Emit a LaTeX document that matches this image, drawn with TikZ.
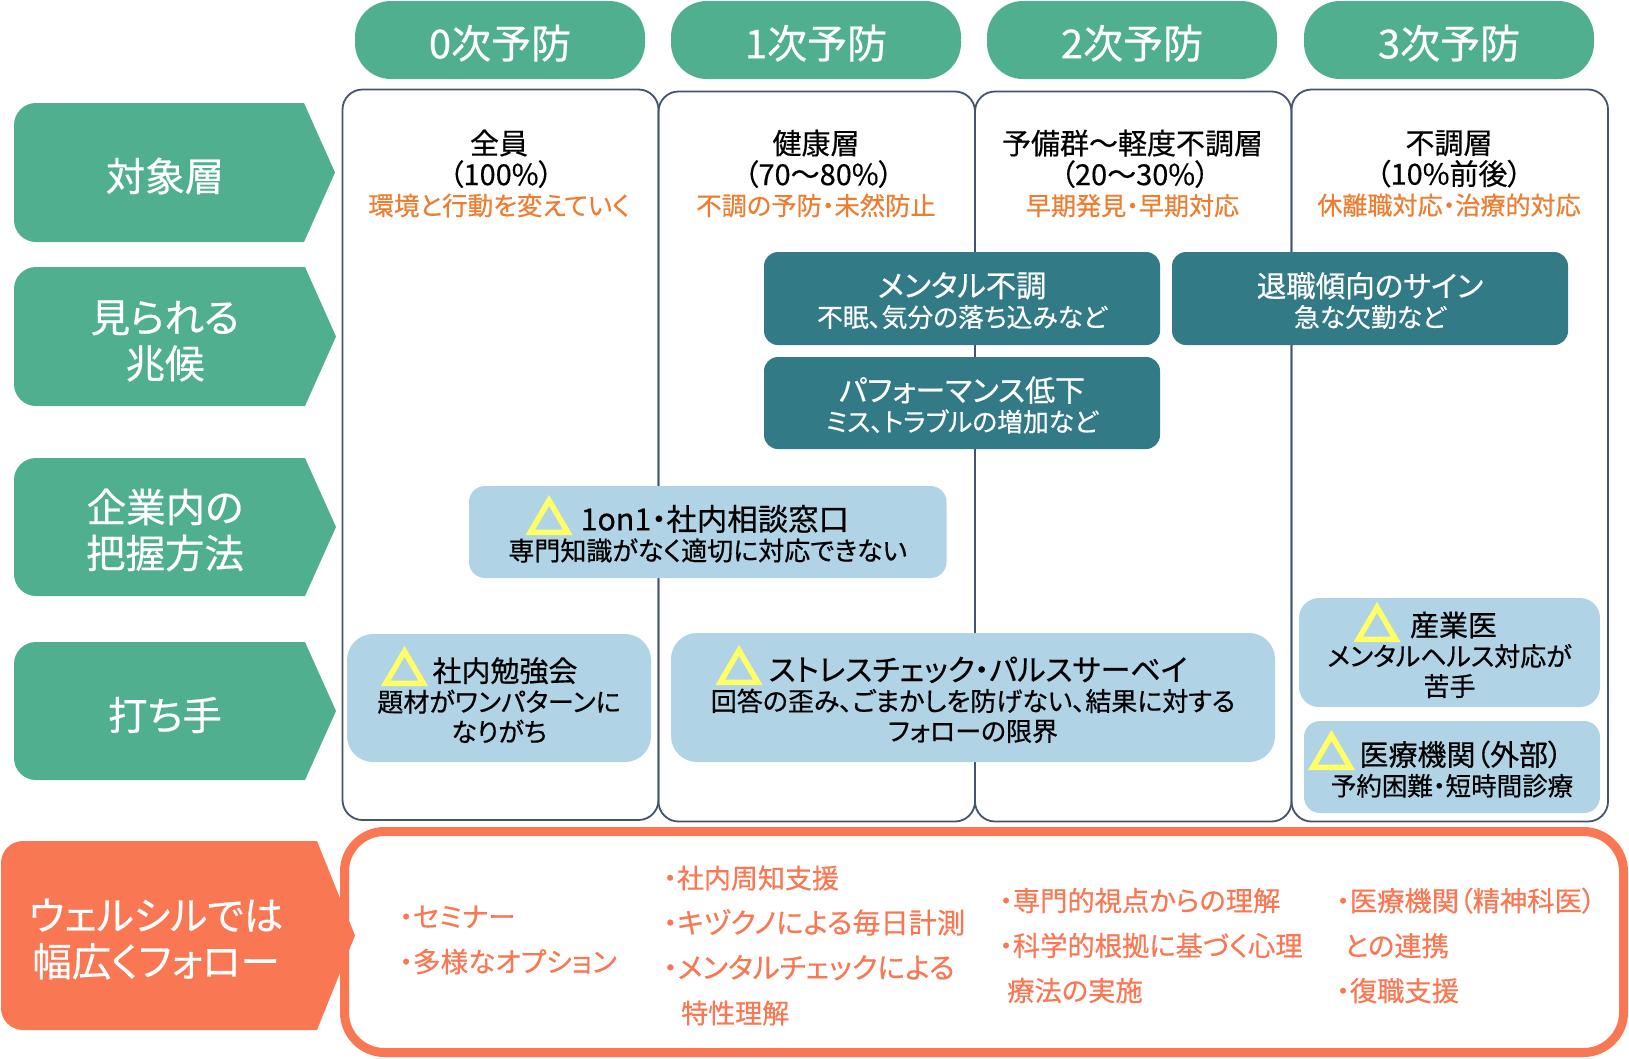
\documentclass[tikz,border=0pt]{standalone}
\usepackage{fontspec}
\setmainfont{Noto Sans CJK JP}[RawFeature=+palt,FakeBold=0.5]
\definecolor{grn}{HTML}{4FAF8F}
\definecolor{tealb}{HTML}{337A87}
\definecolor{lblue}{HTML}{B0D4E5}
\definecolor{frm}{HTML}{44546A}
\definecolor{orgt}{HTML}{ED7D31}
\definecolor{orgb}{HTML}{F97853}
\definecolor{tri}{HTML}{FFFF66}
\newcommand\fz[3]{{\fontsize{#1}{#2}\selectfont #3}}
\newcommand\dn{\rule{0pt}{29pt}}
\newcommand\dnp{\rule{0pt}{40pt}}
\tikzset{
  pill/.style={fill=grn,text=white,rounded corners=36pt,minimum width=290pt,minimum height=78pt,inner sep=0pt,font=\fontsize{40}{44}\selectfont},
  colbox/.style={draw=frm,line width=1.8pt,rounded corners=20pt},
  sidelbl/.style={fill=grn},
  sidetxt/.style={text=white,align=center,inner sep=0pt,font=\fontsize{39.5}{46}\selectfont},
  coltxt/.style={align=center,inner sep=0pt,font=\fontsize{29}{31}\selectfont},
  tealbox/.style={fill=tealb,text=white,align=center,inner sep=0pt,rounded corners=14pt,minimum width=396pt,font=\fontsize{25.8}{30}\selectfont},
  lightbox/.style={fill=lblue,text=black,align=center,inner sep=0pt,font=\fontsize{26}{30}\selectfont},
  listtxt/.style={text=orgb,align=left,inner sep=0pt,font=\fontsize{27.6}{45}\selectfont},
  warntri/.style={draw=tri,line width=5.5pt,miter limit=10},
  pics/warn/.style={code={\draw[warntri] (-18.7,-2.75) -- (0,-34.6) -- (18.7,-2.75) -- cycle;}}
}
\begin{document}
\begin{tikzpicture}[x=1pt,y=-1pt]
\useasboundingbox (0,0) rectangle (1629,1058);
% column frames
\draw[colbox] (658.5,91.5) rectangle (975,821.5);
\draw[colbox] (975,91.5) rectangle (1291.5,821.5);
\draw[colbox] (342.5,89.5) rectangle (658.5,820);
\draw[colbox] (1291.5,89.5) rectangle (1608,821.5);
% phase pills
\node[pill] (p0) at (500,40) {\dnp 0次予防};
\node[pill] (p1) at (816,40) {\dnp 1次予防};
\node[pill] (p2) at (1132,40) {\dnp 2次予防};
\node[pill] (p3) at (1449,40) {\dnp 3次予防};
% side labels
\fill[sidelbl] (304,103) -- (335,172.5) -- (304,242) [rounded corners=22pt] -- (14,242) -- (14,103) [sharp corners] -- cycle;
\fill[sidelbl] (305,267) -- (336,336.5) -- (305,406) [rounded corners=22pt] -- (14,406) -- (14,267) [sharp corners] -- cycle;
\fill[sidelbl] (305,458) -- (336,527) -- (305,596) [rounded corners=22pt] -- (14,596) -- (14,458) [sharp corners] -- cycle;
\fill[sidelbl] (305,642) -- (336,711) -- (305,780) [rounded corners=22pt] -- (14,780) -- (14,642) [sharp corners] -- cycle;
\node[sidetxt] (l0) at (165,176) {対象層};
\node[sidetxt] (l1) at (165,341) {見られる\\兆候};
\node[sidetxt] (l2) at (165,530) {企業内の\\把握方法};
\node[sidetxt] (l3) at (165,715) {打ち手};
% column heads
\node[coltxt] (c0) at (499,173.5) {全員\\\hspace*{4pt}（100\%）\hspace*{4pt}\\[-1pt]\textcolor{orgt}{\fz{25.6}{31}{環境と行動を変えていく}}};
\node[coltxt] (c1) at (816,173.5) {健康層\\\hspace*{5pt}（70～80\%）\hspace*{5pt}\\[-1pt]\textcolor{orgt}{\fz{25.3}{31}{不調の予防・未然防止}}};
\node[coltxt] (c2) at (1132.5,173.5) {予備群～軽度不調層\\\hspace*{5pt}（20～30\%）\hspace*{5pt}\\[-1pt]\textcolor{orgt}{\fz{25.1}{31}{早期発見・早期対応}}};
\node[coltxt] (c3) at (1449,173.5) {不調層\\（10\%前後）\\[-1pt]\textcolor{orgt}{\fz{25.1}{31}{休離職対応・治療的対応}}};
% signs
\node[tealbox,minimum height=93pt] (s0) at (962,298.5) {\dn\fz{30.3}{30}{メンタル不調}\\不眠、気分の落ち込みなど};
\node[tealbox,minimum height=93pt] (s1) at (1370,298.5) {\dn\fz{29.5}{30}{退職傾向のサイン}\\急な欠勤など};
\node[tealbox,minimum height=92pt] (s2) at (962,403) {\dn\fz{30}{30}{パフォーマンス低下}\\ミス、トラブルの増加など};
% measures
\node[lightbox,rounded corners=16pt,minimum width=477.5pt,minimum height=92pt] (m0) at (707.75,532) {\dn\hspace*{14pt}\fz{30.4}{30}{1on1・社内相談窓口}\\専門知識がなく適切に対応できない};
\node[lightbox,rounded corners=26pt,minimum width=304pt,minimum height=128pt] (m1) at (499,698) {\dn\hspace*{12pt}\fz{29}{30}{社内勉強会}\\題材がワンパターンに\\なりがち};
\node[lightbox,rounded corners=26pt,minimum width=604pt,minimum height=129pt] (m2) at (973,697.5) {\dn\hspace*{10pt}\fz{30}{30}{ストレスチェック・パルスサーベイ}\\回答の歪み、ごまかしを防げない、結果に対する\\フォローの限界};
\node[lightbox,rounded corners=20pt,minimum width=301pt,minimum height=109pt] (m3) at (1449.5,652.5) {\dn\hspace*{8pt}\fz{29}{30}{産業医}\\メンタルヘルス対応が\\苦手};
\node[lightbox,rounded corners=16pt,minimum width=296pt,minimum height=92pt] (m4) at (1452,767) {\dn\hspace*{18pt}\fz{29}{30}{医療機関（外部）}\\\fz{25.5}{30}{予約困難・短時間診療}};
\pic at (549,535) {warn};
\pic at (404.5,686) {warn};
\pic at (739,685) {warn};
\pic at (1377,642) {warn};
\pic at (1331.5,770) {warn};
% bottom panel
\draw[draw=orgb,line width=9pt,rounded corners=40pt] (344.5,831.5) rectangle (1623.5,1052.5);
\fill[orgb] (317,841) -- (355,935.5) -- (317,1030) [rounded corners=22pt] -- (1,1030) -- (1,841) [sharp corners] -- cycle;
\node[sidetxt] (f0) at (156,939) {ウェルシルでは\\幅広くフォロー};
\node[listtxt,anchor=west] (b0) at (399,940) {・セミナー\\・多様なオプション};
\node[listtxt,anchor=west] (b1) at (663,945.5) {・\fz{27}{45}{社内周知支援}\\\fz{28.2}{45}{・キヅクノによる毎日計測}\\\fz{28.6}{45}{・メンタルチェックによる}\\\hspace*{18pt}\fz{27}{45}{特性理解}};
\node[listtxt,anchor=west,font=\fontsize{27.3}{45}\selectfont] (b2) at (999,945.5) {・専門的視点からの理解\\・科学的根拠に基づく心理\\\hspace*{8pt}療法の実施};
\node[listtxt,anchor=west,font=\fontsize{27.3}{45}\selectfont] (b3) at (1336,945.5) {・医療機関（精神科医）\\\hspace*{8pt}との連携\\・復職支援};
\end{tikzpicture}
\end{document}
